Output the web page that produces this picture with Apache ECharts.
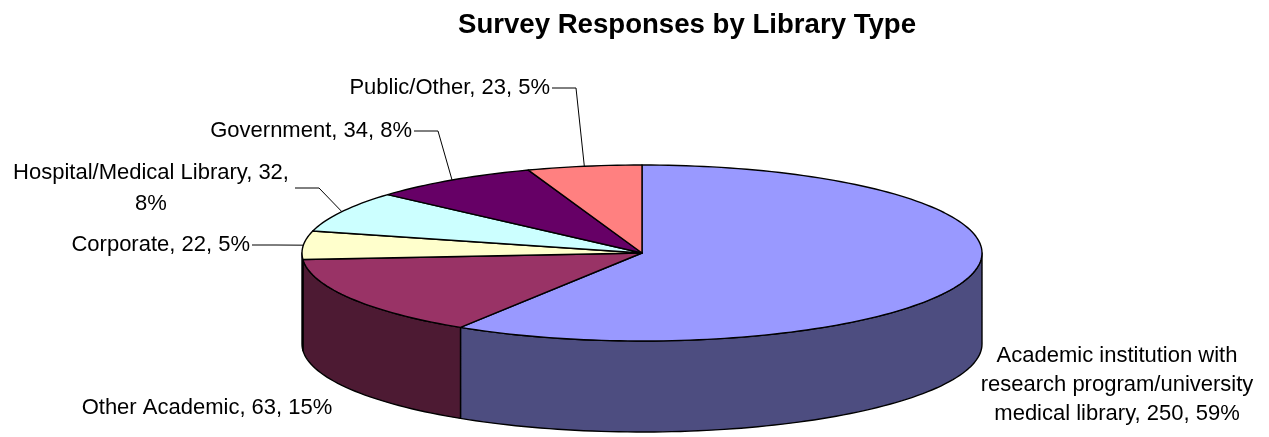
<!DOCTYPE html>
<html>
<head>
<meta charset="utf-8">
<script src="https://cdn.jsdelivr.net/npm/echarts@6/dist/echarts.min.js"></script>
<style>
  html, body { margin: 0; padding: 0; background: #fff; }
  #chart { width: 1269px; height: 437px; }
</style>
</head>
<body>
<div id="chart"></div>
<script>
// Survey responses, in slice order (clockwise from 12 o'clock)
const categories = [
  'Academic institution with\nresearch program/university\nmedical library',
  'Other Academic',
  'Corporate',
  'Hospital/Medical Library',
  'Government',
  'Public/Other'
];
const responses = [250, 63, 22, 32, 34, 23];

// Slice colours (top face) and matching shaded wall colours
const topColors  = ['#9999FF', '#993366', '#FFFFCC', '#CCFFFF', '#660066', '#FF8080'];
const sideColors = ['#4D4D80', '#4D1A33', '#808066', '#668080', '#330033', '#804040'];

// Label placement: anchor point, alignment, line height, optional leader start, text joiner
const labelLayout = [
  { x: 1117, y: 385, align: 'center', lh: 29, leader: null, pctSep: ', ' },
  { x: 207,  y: 408, align: 'center', lh: 29, leader: null, pctSep: ', ' },
  { x: 250,  y: 245, align: 'right',  lh: 29, leader: [252, 245], pctSep: ', ' },
  { x: 151,  y: 188, align: 'center', lh: 31, leader: [295, 188], pctSep: ',\n' },
  { x: 412,  y: 131, align: 'right',  lh: 29, leader: [414, 131], pctSep: ', ' },
  { x: 550,  y: 88,  align: 'right',  lh: 29, leader: [552, 88],  pctSep: ', ' }
];

// Pie geometry (ellipse of the top face and wall depth)
const PIE = { cx: 642, cy: 253, rx: 340, ry: 88, depth: 91 };
const FONT = '"Liberation Sans", Arial, sans-serif';
const EDGE = { stroke: '#000', lineWidth: 1.4, lineJoin: 'round' };

const total = responses.reduce((a, b) => a + b, 0);
const startAngles = [];
{
  let acc = 0;
  responses.forEach(v => { startAngles.push(acc / total * 360); acc += v; });
}

function rimPoint(deg, dy) {
  const r = deg * Math.PI / 180;
  return [PIE.cx + PIE.rx * Math.sin(r), PIE.cy - PIE.ry * Math.cos(r) + (dy || 0)];
}

function arcPoints(a0, a1, dy) {
  const pts = [];
  const steps = Math.max(2, Math.ceil((a1 - a0) / 1.5));
  for (let k = 0; k <= steps; k++) pts.push(rimPoint(a0 + (a1 - a0) * k / steps, dy));
  return pts;
}

function renderSlice(params, api) {
  const i = params.dataIndex;
  const value = api.value(1);
  const a0 = startAngles[i];
  const a1 = a0 + value / total * 360;
  const children = [];

  // Front wall: the part of the rim between 90° and 270° faces the viewer
  const s0 = Math.max(a0, 90), s1 = Math.min(a1, 270);
  if (s1 > s0) {
    const top = arcPoints(s0, s1, 0);
    const bottom = arcPoints(s0, s1, PIE.depth).reverse();
    children.push({
      type: 'polygon',
      shape: { points: top.concat(bottom) },
      style: Object.assign({ fill: sideColors[i] }, EDGE)
    });
  }

  // Top face
  children.push({
    type: 'polygon',
    shape: { points: [[PIE.cx, PIE.cy]].concat(arcPoints(a0, a1, 0)) },
    style: Object.assign({ fill: topColors[i] }, EDGE)
  });

  // Label text
  const pct = Math.round(value / total * 100) + '%';
  const L = labelLayout[i];
  children.push({
    type: 'text',
    style: {
      text: categories[i] + ', ' + value + L.pctSep + pct,
      x: L.x, y: L.y,
      align: L.align, verticalAlign: 'middle',
      font: '22px ' + FONT, lineHeight: L.lh, fill: '#000'
    }
  });

  // Leader line to the rim at the slice's mid-angle
  if (L.leader) {
    const anchor = rimPoint((a0 + a1) / 2, 0);
    children.push({
      type: 'polyline',
      shape: { points: [L.leader, [L.leader[0] + 24, L.leader[1]], anchor] },
      style: { stroke: '#000', lineWidth: 1, fill: null }
    });
  }

  return { type: 'group', children: children };
}

const chart = echarts.init(document.getElementById('chart'), null, { renderer: 'canvas' });
chart.setOption({
  backgroundColor: '#fff',
  animation: false,
  title: {
    text: 'Survey Responses by Library Type',
    left: 682, top: 6, textAlign: 'center',
    textStyle: { fontFamily: FONT, fontWeight: 'bold', fontSize: 27.6, color: '#000' }
  },
  series: [{
    type: 'custom',
    coordinateSystem: 'none',
    renderItem: renderSlice,
    data: responses.map((v, i) => [i, v])
  }]
});
</script>
</body>
</html>
